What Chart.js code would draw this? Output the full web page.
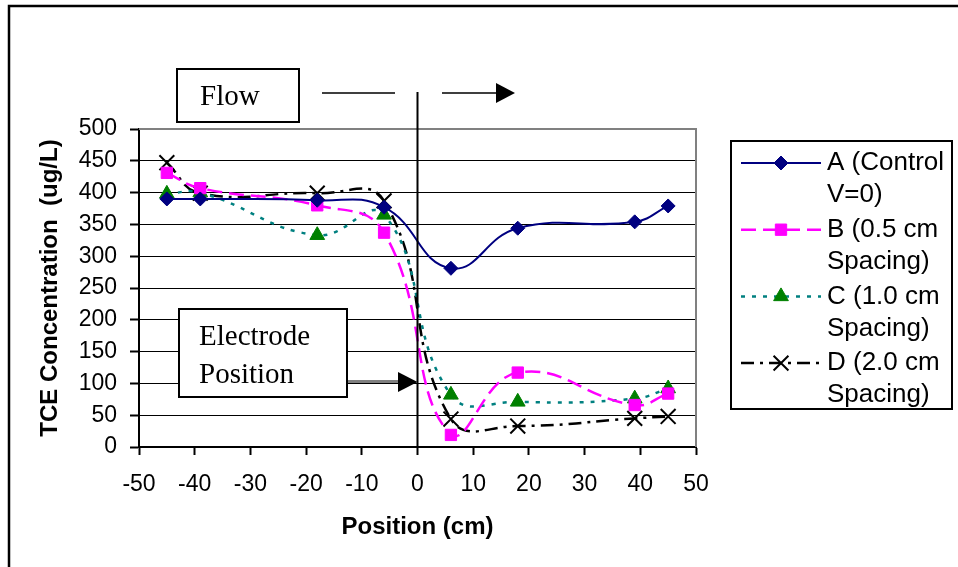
<!DOCTYPE html>
<html>
<head>
<meta charset="utf-8">
<script src="https://cdn.jsdelivr.net/npm/chart.js"></script>
<style>
  html, body { margin: 0; padding: 0; background: #fff; }
  #wrap { width: 958px; height: 567px; }
</style>
</head>
<body>
<div id="wrap"><canvas id="tce-chart" width="958" height="567"></canvas></div>
<script>
// positions along the cell (cm) and TCE readings (ug/L)
var positions = [-45, -39, -18, -6, 6, 18, 39, 45];
var controlA = [390, 390, 388, 377, 281, 344, 354, 379];
var spacingB = [431, 407, 380, 337, 19, 117, 66, 84];
var spacingC = [398, 400, 333, 365, 82, 71, 76, 92];
var spacingD = [447, 399, 399, 387, 44, 33, 45, 48];
var seriesLabels = [
    ['A (Control', 'V=0)'],
    ['B (0.5 cm', 'Spacing)'],
    ['C (1.0 cm', 'Spacing)'],
    ['D (2.0 cm', 'Spacing)']
];
var xTicks = [-50, -40, -30, -20, -10, 0, 10, 20, 30, 40, 50];

function points(values) {
    return positions.map(function(p, i) { return {x: p, y: values[i]}; });
}

var sans = "'Liberation Sans', Arial, sans-serif";
var serif = "'Liberation Serif', 'Times New Roman', serif";

// frame, flow / electrode notes and the legend
var decorations = {
    id: 'decorations',
    beforeDraw: function(chart) {
        var ctx = chart.ctx;
        ctx.save();
        ctx.fillStyle = '#fff';
        ctx.fillRect(0, 0, chart.width, chart.height);
        ctx.strokeStyle = '#000';
        ctx.lineWidth = 2.5;
        ctx.beginPath();
        ctx.moveTo(9, chart.height);
        ctx.lineTo(9, 6);
        ctx.lineTo(chart.width, 6);
        ctx.stroke();
        ctx.restore();
    },
    afterDraw: function(chart) {
        var ctx = chart.ctx;
        var area = chart.chartArea;
        var x0 = chart.scales.x.getPixelForValue(0);
        ctx.save();

        // plot area border (top / right)
        ctx.strokeStyle = '#808080';
        ctx.lineWidth = 2;
        ctx.beginPath();
        ctx.moveTo(area.left, area.top);
        ctx.lineTo(area.right, area.top);
        ctx.lineTo(area.right, area.bottom);
        ctx.stroke();

        // electrode line
        ctx.strokeStyle = '#000';
        ctx.lineWidth = 2;
        ctx.beginPath();
        ctx.moveTo(x0, 92);
        ctx.lineTo(x0, area.bottom);
        ctx.stroke();

        // flow box and arrow
        ctx.fillStyle = '#fff';
        ctx.fillRect(177, 69, 122, 53);
        ctx.strokeRect(177, 69, 122, 53);
        ctx.fillStyle = '#000';
        ctx.font = '29px ' + serif;
        ctx.textBaseline = 'middle';
        ctx.textAlign = 'left';
        ctx.fillText('Flow', 200, 97);
        ctx.lineWidth = 1.5;
        ctx.beginPath();
        ctx.moveTo(322, 93); ctx.lineTo(395, 93);
        ctx.moveTo(442, 93); ctx.lineTo(497, 93);
        ctx.stroke();
        ctx.beginPath();
        ctx.moveTo(496, 83); ctx.lineTo(515, 93); ctx.lineTo(496, 103);
        ctx.closePath();
        ctx.fill();

        // electrode position box and arrow
        ctx.lineWidth = 2;
        ctx.fillStyle = '#fff';
        ctx.fillRect(179, 309, 168, 88);
        ctx.strokeRect(179, 309, 168, 88);
        ctx.fillStyle = '#000';
        ctx.fillText('Electrode', 199, 337);
        ctx.fillText('Position', 199, 375);
        ctx.lineWidth = 1;
        ctx.beginPath();
        ctx.moveTo(347, 381); ctx.lineTo(400, 381);
        ctx.moveTo(347, 383); ctx.lineTo(400, 383);
        ctx.stroke();
        ctx.beginPath();
        ctx.moveTo(398, 372); ctx.lineTo(x0, 382); ctx.lineTo(398, 392);
        ctx.closePath();
        ctx.fill();

        // legend
        ctx.lineWidth = 2;
        ctx.strokeStyle = '#000';
        ctx.fillStyle = '#fff';
        ctx.fillRect(731, 141, 221, 268);
        ctx.strokeRect(731, 141, 221, 268);
        ctx.font = '26px ' + sans;
        chart.data.datasets.forEach(function(ds, i) {
            var y = 163 + i * 66.7;
            ctx.strokeStyle = ds.borderColor;
            ctx.lineWidth = ds.borderWidth;
            ctx.setLineDash(ds.borderDash || []);
            ctx.beginPath();
            ctx.moveTo(741, y);
            ctx.lineTo(821, y);
            ctx.stroke();
            ctx.setLineDash([]);
            ctx.fillStyle = ds.pointBackgroundColor;
            ctx.strokeStyle = ds.pointBorderColor;
            ctx.lineWidth = ds.pointBorderWidth;
            Chart.helpers.drawPoint(ctx, {
                pointStyle: ds.pointStyle,
                radius: ds.pointRadius,
                rotation: 0,
                borderWidth: ds.pointBorderWidth
            }, 781, y);
            ctx.fillStyle = '#000';
            ds.legendLines.forEach(function(line, j) {
                ctx.fillText(line, 827, y + j * 32);
            });
        });
        ctx.restore();
    }
};

var chartEl = document.getElementById('tce-chart');
new Chart(chartEl, {
    type: 'line',
    data: {
        datasets: [{
            label: 'A (Control V=0)',
            legendLines: seriesLabels[0],
            data: points(controlA),
            borderColor: '#000080',
            borderWidth: 2,
            pointStyle: 'rectRot',
            pointRadius: 7,
            pointBackgroundColor: '#000080',
            pointBorderColor: '#000080',
            pointBorderWidth: 1
        }, {
            label: 'B (0.5 cm Spacing)',
            legendLines: seriesLabels[1],
            data: points(spacingB),
            borderColor: '#ff00ff',
            borderWidth: 2.5,
            borderDash: [15, 7],
            pointStyle: 'rect',
            pointRadius: 8,
            pointBackgroundColor: '#ff00ff',
            pointBorderColor: '#ff00ff',
            pointBorderWidth: 1
        }, {
            label: 'C (1.0 cm Spacing)',
            legendLines: seriesLabels[2],
            data: points(spacingC),
            borderColor: '#008080',
            borderWidth: 2.5,
            borderDash: [4, 7],
            pointStyle: 'triangle',
            pointRadius: 8.5,
            pointBackgroundColor: '#008000',
            pointBorderColor: '#008000',
            pointBorderWidth: 1
        }, {
            label: 'D (2.0 cm Spacing)',
            legendLines: seriesLabels[3],
            data: points(spacingD),
            borderColor: '#000',
            borderWidth: 2.5,
            borderDash: [13, 6, 3, 6],
            pointStyle: 'crossRot',
            pointRadius: 10.5,
            pointBackgroundColor: '#000',
            pointBorderColor: '#000',
            pointBorderWidth: 2
        }]
    },
    options: {
        responsive: false,
        animation: false,
        layout: { padding: { left: 36, top: 129, right: 262, bottom: 25 } },
        elements: { line: { tension: 0.45 } },
        plugins: { legend: { display: false }, tooltip: { enabled: false } },
        scales: {
            x: {
                type: 'linear',
                min: -50,
                max: 50,
                afterBuildTicks: function(scale) {
                    scale.ticks = xTicks.map(function(v) { return {value: v}; });
                },
                afterFit: function(scale) { scale.height = 95; },
                grid: { drawOnChartArea: false, tickLength: 8, tickWidth: 2, tickColor: '#000', color: '#000' },
                border: { color: '#000', width: 2 },
                ticks: { color: '#000', font: { family: sans, size: 23 }, padding: 16, maxRotation: 0 },
                title: { display: true, text: 'Position (cm)', color: '#000', padding: 0,
                         font: { family: sans, size: 24, weight: 'bold' } }
            },
            y: {
                min: 0,
                max: 500,
                ticks: { stepSize: 50, color: '#000', font: { family: sans, size: 23 }, padding: 13 },
                afterFit: function(scale) { scale.width = 103; },
                grid: { color: '#000', lineWidth: 1, tickLength: 9, tickWidth: 2, tickColor: '#000' },
                border: { color: '#000', width: 2 },
                title: { display: true, text: 'TCE Concentration  (ug/L)', color: '#000', padding: 0,
                         font: { family: sans, size: 24, weight: 'bold' } }
            }
        }
    },
    plugins: [decorations]
});
</script>
</body>
</html>
